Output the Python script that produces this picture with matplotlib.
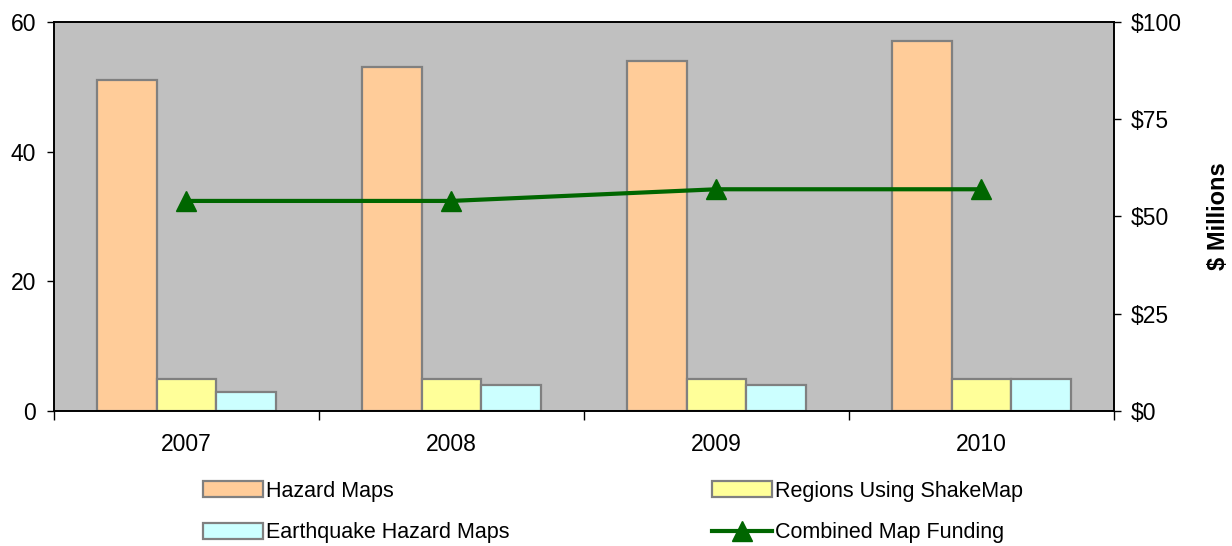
import numpy as np
import matplotlib
matplotlib.use("Agg")
import matplotlib.pyplot as plt
from matplotlib.ticker import FuncFormatter

plt.rcParams['font.family'] = ['Liberation Sans', 'DejaVu Sans']

# data
years = ['2007', '2008', '2009', '2010']
hazard_maps = [51, 53, 54, 57]
shakemap_regions = [5, 5, 5, 5]
eq_hazard_maps = [3, 4, 4, 5]
funding = [54, 54, 57, 57]   # $ millions

fig = plt.figure(figsize=(12.32, 5.46), dpi=100)
ax = fig.add_axes([0.0438, 0.2473, 0.8604, 0.7124])
ax.set_facecolor('#C0C0C0')

x = np.arange(len(years))
w = 0.225
edge = '#808080'
b1 = ax.bar(x - w, hazard_maps, w, color='#FFCC99', edgecolor=edge, linewidth=1.6, zorder=2)
b2 = ax.bar(x, shakemap_regions, w, color='#FFFF99', edgecolor=edge, linewidth=1.6, zorder=2)
b3 = ax.bar(x + w, eq_hazard_maps, w, color='#CCFFFF', edgecolor=edge, linewidth=1.6, zorder=2)

ax.set_xlim(-0.5, len(years) - 0.5)
ax.set_ylim(0, 60)
ax.set_yticks([0, 20, 40, 60])
ax.set_xticks(x)
ax.set_xticklabels(years)
ax.set_xticks(np.arange(-0.5, len(years)), minor=True)
ax.tick_params(axis='x', which='major', length=0, pad=16, labelsize=16.5)
ax.tick_params(axis='x', which='minor', length=6.5, width=1, direction='out')
ax.tick_params(axis='y', length=5, width=1, direction='out', labelsize=16.5, pad=8)
for s in ax.spines.values():
    s.set_color('black')
    s.set_linewidth(1.2)

ax2 = ax.twinx()
ax2.set_ylim(0, 100)
ax2.set_yticks([0, 25, 50, 75, 100])
ax2.yaxis.set_major_formatter(FuncFormatter(lambda v, p: '\\$%d' % v))
ax2.tick_params(axis='y', length=5, width=1, direction='out', labelsize=16.5, pad=7)
ln, = ax2.plot(x, funding, color='#006600', linewidth=3, marker='^', markersize=14, zorder=3)
ax2.set_ylabel('\\$ Millions', fontsize=17, fontweight='bold', labelpad=18)
for s in ax2.spines.values():
    s.set_color('black')
    s.set_linewidth(1.2)

leg = fig.legend([b1, b3, b2, ln],
                 ['Hazard Maps', 'Earthquake Hazard Maps', 'Regions Using ShakeMap', 'Combined Map Funding'],
                 ncol=2, loc='upper left', bbox_to_anchor=(0.1559, 0.139), frameon=False,
                 borderpad=0, fontsize=15.5, handlelength=2.8, handleheight=0.75, handletextpad=0.15,
                 columnspacing=9.38, labelspacing=0.95)

fig.savefig('out.png', dpi=100)
